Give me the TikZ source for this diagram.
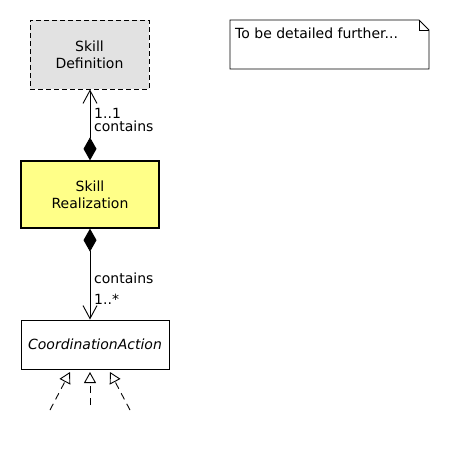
\documentclass[tikz,border=0pt]{standalone}
\usepackage{fontspec}
\setmainfont{DejaVu Sans}
\usetikzlibrary{arrows.meta}
\definecolor{defgray}{HTML}{E2E2E2}
\definecolor{realyellow}{HTML}{FFFF88}
\tikzset{
  umlfont/.style={font=\fontsize{14}{17}\selectfont},
  classbox/.style={draw=black, line width=1pt, rectangle, inner sep=0pt, align=center, umlfont},
  lbl/.style={inner sep=0pt, anchor=base west, umlfont},
  compo/.style={line width=0.9pt, {Diamond[length=23pt,width=13pt]}-{Straight Barb[length=13pt,width=14pt,line width=0.9pt]}},
  gener/.style={line width=0.9pt, dash pattern=on 7pt off 5pt, -{Triangle[open,length=11pt,width=12pt,line width=0.9pt]}}
}
\begin{document}
\begin{tikzpicture}[x=1pt,y=-1pt]
\useasboundingbox (0,0) rectangle (450,450);
\fill[white] (0,0) rectangle (450,450);
% classes
\node[classbox, dash pattern=on 5pt off 3pt, fill=defgray, minimum width=119pt, minimum height=69pt] (sd) at (89.5,54.5) {Skill\\Definition};
\node[classbox, line width=1.3pt, fill=realyellow, minimum width=138pt, minimum height=67pt] (sr) at (90,194.5) {Skill\\Realization};
\node[classbox, fill=white, minimum width=148pt, minimum height=49pt] (ca) at (95,344.5) {\itshape CoordinationAction};
% note
\coordinate (n1) at (230,20);
\coordinate (n2) at (429,69);
\draw[line width=0.9pt, fill=white] (n1) -- (419,20) -- (429,30) -- (n2 |- 0,30) -- (n2) -- (n1 |- n2) -- cycle;
\draw[line width=0.9pt] (419,20) -- (419,30) -- (429,30);
\node[lbl] (notetext) at (235,38) {To be detailed further...};
% compositions
\draw[compo] (sr.north) -- (sr.north |- sd.south);
\node[lbl] (m1) at (94,118) {1..1};
\node[lbl] (c1) at (94,131.5) {contains};
\draw[compo] (sr.south) -- (sr.south |- ca.north);
\node[lbl] (c2) at (94,283) {contains};
\node[lbl] (m2) at (94,304) {1..*};
% generalizations
\coordinate (g1a) at (50,410);
\coordinate (g1b) at (70,372);
\coordinate (g2a) at (90,405);
\coordinate (g2b) at (90,372);
\coordinate (g3a) at (130,410);
\coordinate (g3b) at (110,372);
\draw[gener] (g1a) -- (g1b);
\draw[gener] (g2a) -- (g2b);
\draw[gener] (g3a) -- (g3b);
\end{tikzpicture}
\end{document}
